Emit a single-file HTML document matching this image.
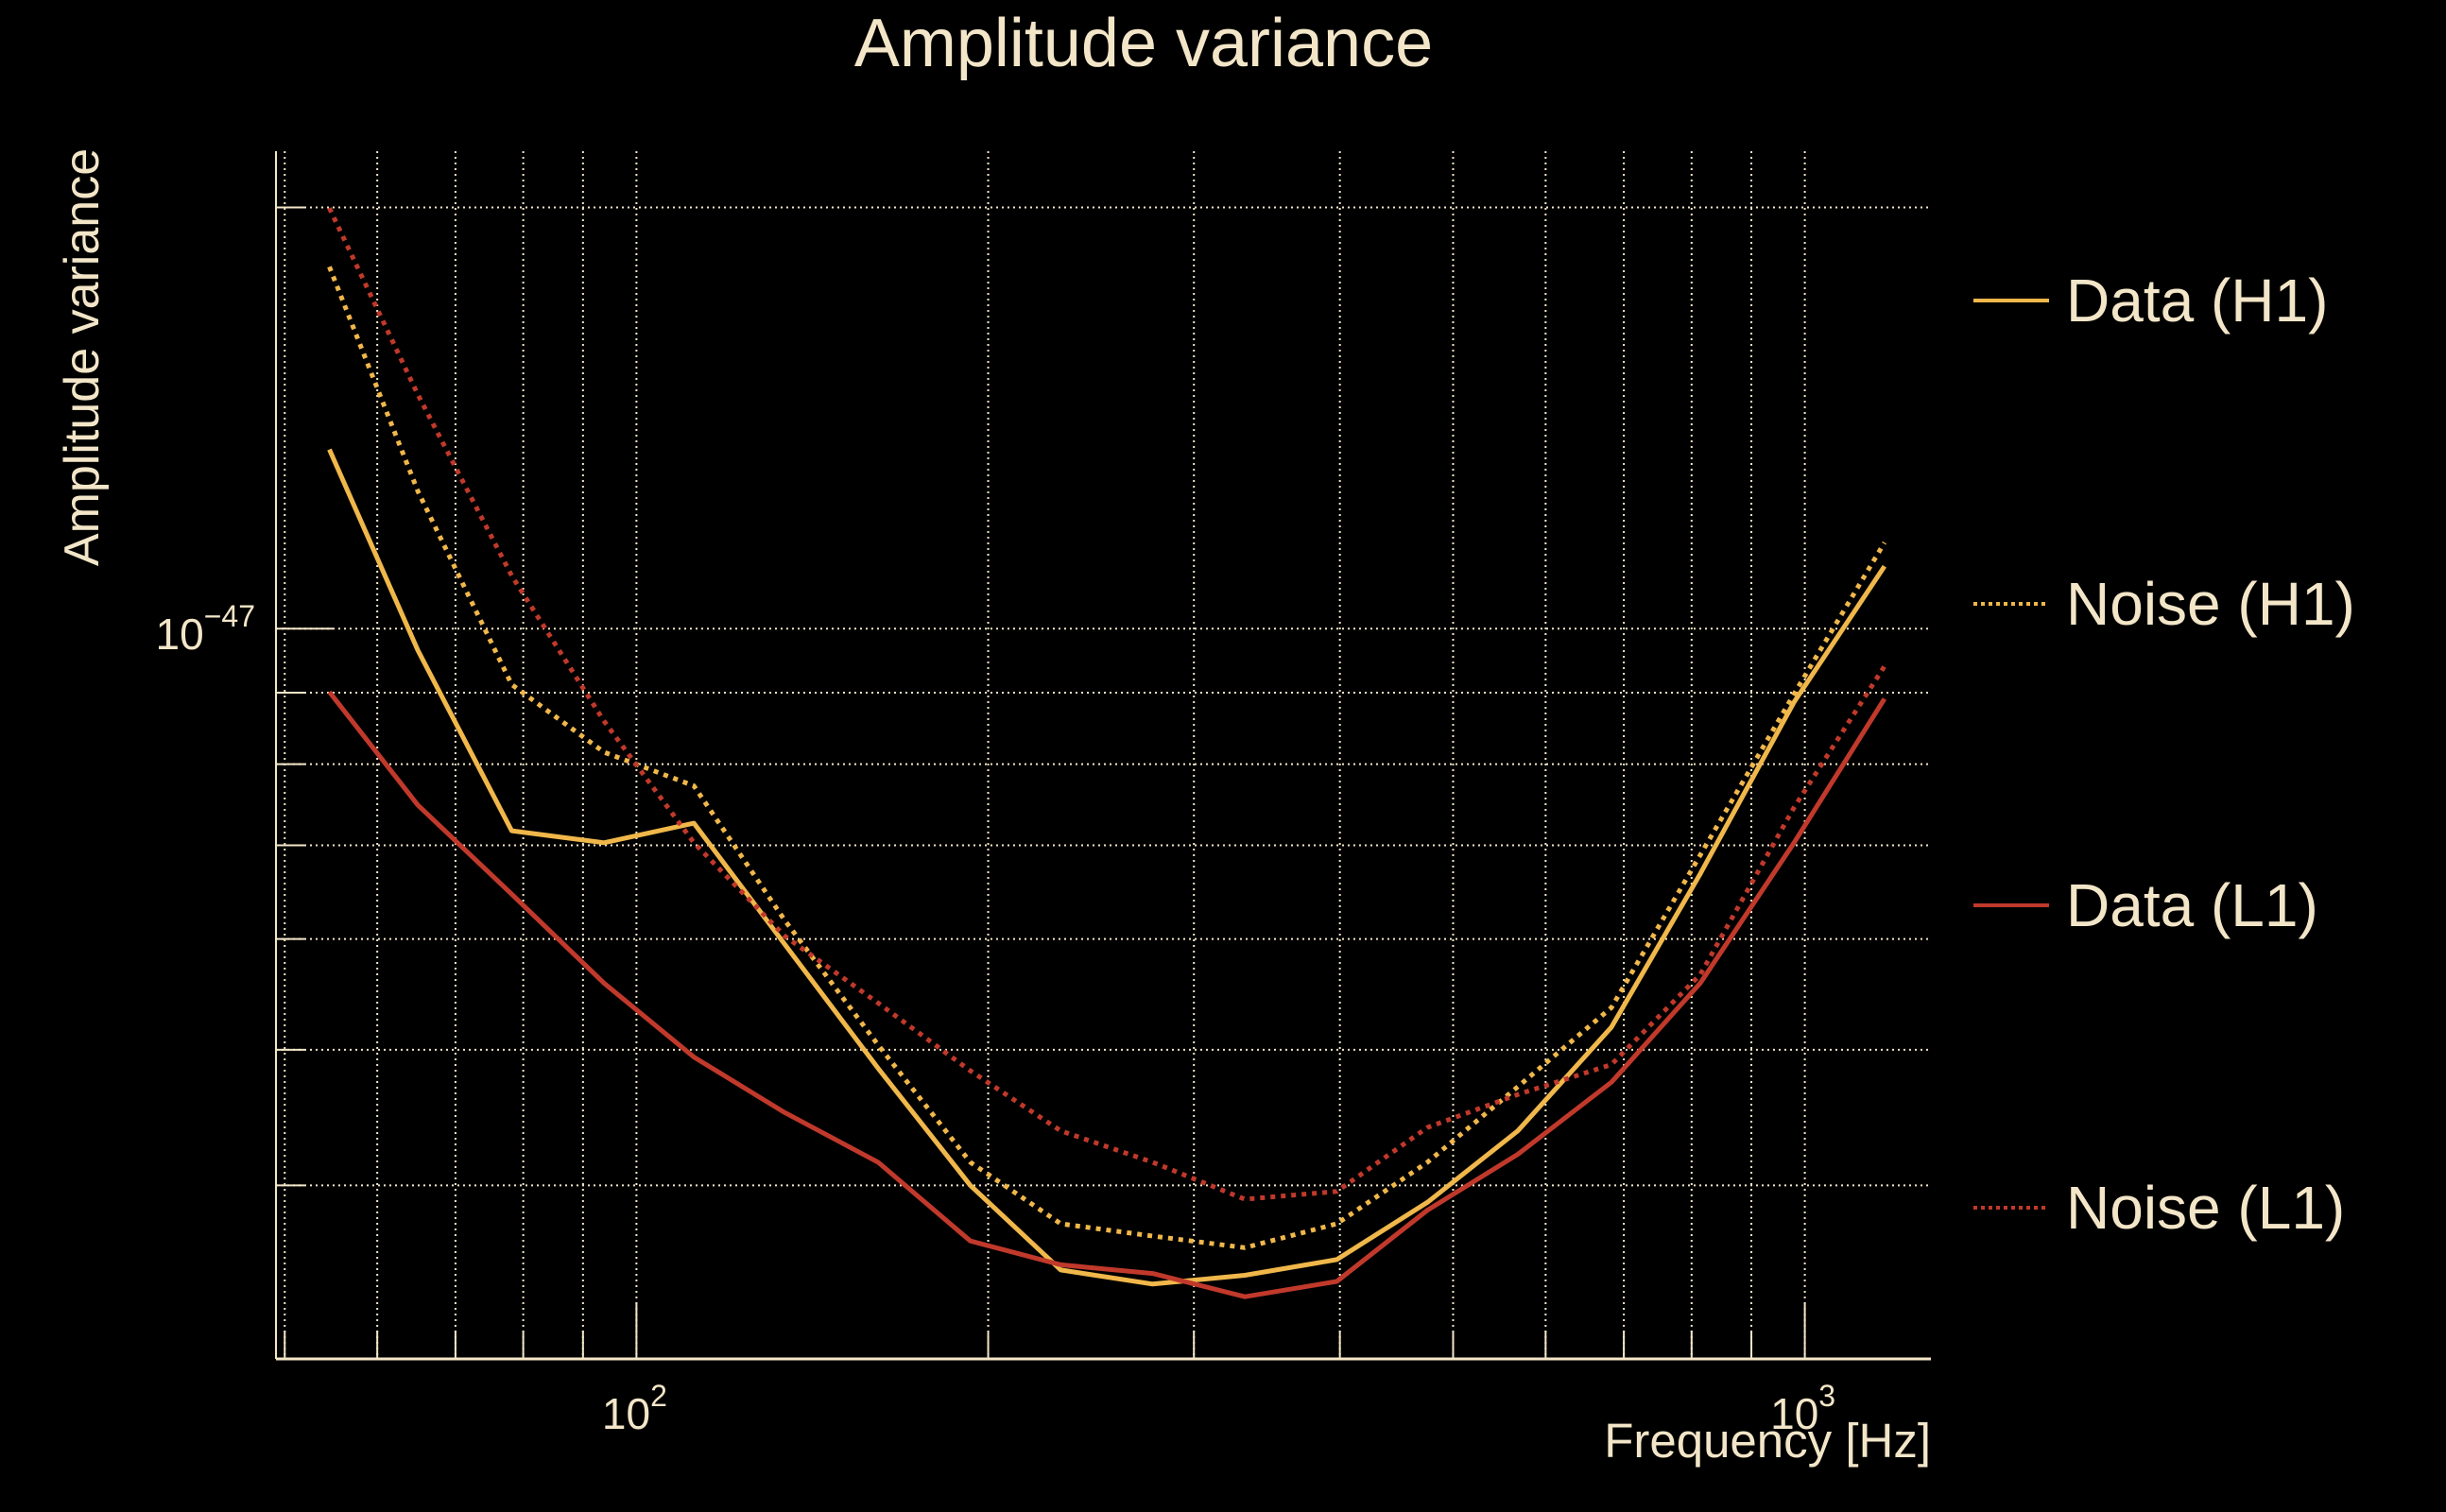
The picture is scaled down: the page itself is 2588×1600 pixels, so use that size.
<!DOCTYPE html>
<html><head><meta charset="utf-8">
<style>
html,body{margin:0;padding:0;background:#000;}
svg{display:block;}
text{font-family:"Liberation Sans",sans-serif;fill:#f3e6c8;}
</style></head>
<body>
<svg id="chart" width="2588" height="1600" viewBox="0 0 2588 1600" xmlns="http://www.w3.org/2000/svg">
<rect width="2588" height="1600" fill="#000"/>
<text x="1210" y="70" font-size="72" text-anchor="middle">Amplitude variance</text>
<text transform="translate(104,378) rotate(-90)" font-size="52" text-anchor="middle">Amplitude variance</text>
<text x="2043" y="1542" font-size="51" text-anchor="end">Frequency [Hz]</text>
<g id="grid"></g>
<g id="series"></g>
<g id="legend"></g>
</svg>
<script>
const freqs = [54.6,65.0,78.2,93.8,112.0,133.9,161.0,193.1,230.8,276.6,331.7,397.6,475.3,568.0,683.1,813.9,979,1170];
const dataH1 = [13.43,9.65,7.17,7.03,7.26,5.95,4.85,4.00,3.48,3.40,3.45,3.54,3.89,4.375,5.19,6.68,8.86,11.08];
const noiseH1 = [18.14,12.54,9.12,8.16,7.72,6.19,5.04,4.155,3.755,3.68,3.61,3.755,4.155,4.705,5.36,6.89,8.98,11.52];
const dataL1 = [9.01,7.48,6.46,5.58,4.94,4.51,4.155,3.65,3.51,3.46,3.33,3.415,3.84,4.21,4.74,5.58,7.03,8.91];
const noiseL1 = [19.98,14.70,10.91,8.59,7.03,6.03,5.40,4.83,4.375,4.155,3.91,3.96,4.40,4.645,4.88,5.66,7.45,9.40];
const seriesNames = ["Data (H1)","Noise (H1)","Data (L1)","Noise (L1)"];
const yGridValues = [4,5,6,7,8,9,10,20];
const xGridValues = [50,60,70,80,90,100,200,300,400,500,600,700,800,900,1000];
const xTickLabels = [["2",100],["3",1000]];

const NS="http://www.w3.org/2000/svg";
const L=292,R=2043,T=160,B=1438;
const xs = f => 673.4 + (Math.log10(f)-2)*1236.2;
const ys = v => 665.2 - (Math.log10(v)-1)*1480.5; // v in units of 1e-48
function mk(tag,attrs,parent){const e=document.createElementNS(NS,tag);for(const k in attrs)e.setAttribute(k,attrs[k]);parent.appendChild(e);return e;}
const grid=document.getElementById('grid');
const GC="#f3e6c8";
xGridValues.forEach(f=>{
  const x=xs(f);
  const g=mk('line',{x1:x,x2:x,y1:T,y2:B,stroke:GC,'stroke-width':2,'stroke-dasharray':'2 4'},grid);
  
  
  const major=(f===100||f===1000);
  const t=mk('line',{x1:x,x2:x,y1:B,y2:B-(major?60:30),stroke:GC,'stroke-width':2},grid);
  
  
});
yGridValues.forEach(v=>{
  const y=ys(v);
  const g=mk('line',{x1:L,x2:R,y1:y,y2:y,stroke:GC,'stroke-width':2,'stroke-dasharray':'2 4'},grid);
  
  
  const major=(v===10);
  const t=mk('line',{x1:L,x2:L+(major?60:30),y1:y,y2:y,stroke:GC,'stroke-width':2},grid);
  
  
});
const ax=mk('line',{x1:L,x2:L,y1:T,y2:B,stroke:GC,'stroke-width':2},grid);


const bx=mk('line',{x1:L,x2:R,y1:B,y2:B,stroke:GC,'stroke-width':3},grid);


const yl=mk('text',{x:270,y:ys(10)+22,'font-size':46,'text-anchor':'end'},grid);


yl.innerHTML='10<tspan font-size="32" dy="-24">−47</tspan>';
xTickLabels.forEach(([e,f])=>{
  const t=mk('text',{x:xs(f)-2,y:1512,'font-size':46,'text-anchor':'middle'},grid);
  
  
  t.innerHTML='10<tspan font-size="32" dy="-24">'+e+'</tspan>';
});
const Y="#f0b74a", Rd="#c0392b";
const defs=[[dataH1,Y,null,'data-h1-line'],[noiseH1,Y,'5 6','noise-h1-line'],[dataL1,Rd,null,'data-l1-line'],[noiseL1,Rd,'5 6','noise-l1-line']];
const sg=document.getElementById('series');
defs.forEach(([vals,c,dash,name])=>{
  const d=vals.map((v,i)=>(i?'L':'M')+xs(freqs[i]).toFixed(1)+','+ys(v).toFixed(1)).join(' ');
  const a={d:d,fill:'none',stroke:c,'stroke-width':5,'stroke-linejoin':'round'};
  if(dash)a['stroke-dasharray']=dash;
  const p=mk('path',a,sg);
  
  
});
const lg=document.getElementById('legend');
const ly=[314,635,954,1274];
seriesNames.forEach((n,i)=>{
  const [vals,c,dash]=defs[i];
  const g=mk('g',{},lg);
  
  
  const a={x1:2088,x2:2168,y1:ly[i]+4,y2:ly[i]+4,stroke:c,'stroke-width':4};
  if(dash)a['stroke-dasharray']='4 4';
  const ln=mk('line',a,g);
  
  
  const t=mk('text',{x:2186,y:ly[i]+26,'font-size':64},g);
  
  
  t.textContent=n;
});
</script>
</body></html>
